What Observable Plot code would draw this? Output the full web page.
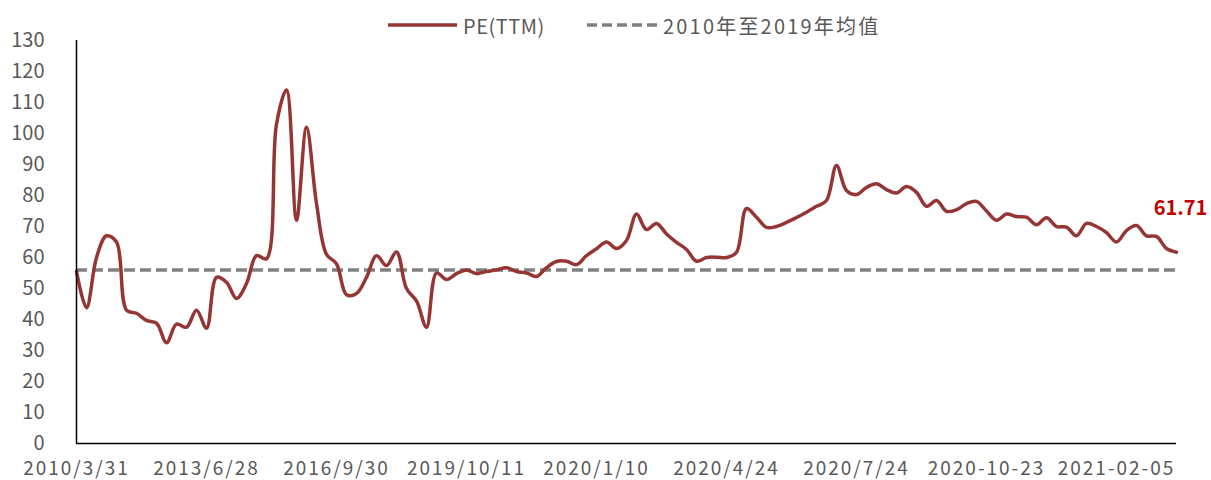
<!DOCTYPE html>
<html>
<head>
<meta charset="utf-8">
<script src="https://cdn.jsdelivr.net/npm/d3@7"></script>
<script src="https://cdn.jsdelivr.net/npm/@observablehq/plot@0.6"></script>
<style>
  html, body { margin: 0; padding: 0; background: #fff; }
  body { width: 1211px; height: 480px; overflow: hidden; font-family: "Noto Sans CJK SC", "Noto Sans", sans-serif; }
  #legend { position: relative; height: 30px; }
  .item { position: absolute; top: 14px; height: 22px; display: flex; align-items: center; font-size: 20px; color: #595959; white-space: nowrap; }
  .item svg { margin-right: 6px; }
</style>
</head>
<body>
<div id="legend">
  <div class="item" style="left:388px;">
    <svg width="69" height="6"><line x1="0" y1="3" x2="69" y2="3" stroke="#963634" stroke-width="3.5"/></svg><span style="letter-spacing:0.5px">PE(TTM)</span>
  </div>
  <div class="item" style="left:587px;">
    <svg width="70" height="6"><line x1="0" y1="3" x2="70" y2="3" stroke="#808080" stroke-width="3.5" stroke-dasharray="10,5"/></svg><span style="letter-spacing:2.2px">2010年至2019年均值</span>
  </div>
</div>
<div id="chart"></div>
<script>
// PE(TTM) series, one value per category (quarterly until 2019/10, weekly after)
const peValues = [
  55.5, 43.8, 60, 67, 65, 43, 42, 39.7, 38.8, 32.5,
  38.5, 37.5, 43, 37.2, 53.6, 52, 46.8, 51.6, 60.6, 59.6,
  103, 114, 72, 102, 77.4, 61, 58, 48, 48.4, 53.6,
  60.6, 57.4, 61.8, 50, 46, 37.5, 55, 52.9, 54.8, 56,
  54.8, 55.5, 56, 56.7, 55.5, 55, 53.9, 56.7, 58.7, 58.8,
  57.7, 60.6, 62.8, 65, 62.9, 65.5, 74, 69, 71, 67.6,
  64.9, 62.6, 58.8, 60, 60.1, 60, 61.7, 75.8, 73, 69.7,
  70, 71.3, 72.9, 74.6, 76.5, 78.4, 89.7, 81.6, 80.3, 82.6,
  83.8, 81.9, 80.8, 82.9, 81, 76.5, 78.4, 74.9, 75.4, 77.4,
  78.1, 75, 72, 74, 73.2, 73, 70.6, 72.8, 70, 69.8,
  67, 71, 70, 68, 65, 68.7, 70.3, 67, 66.8, 62.9,
  61.71
];
// 2010-2019 average
const meanValue = 56;
// category axis labels, shown every 13th category
const tickLabels = ["2010/3/31", "2013/6/28", "2016/9/30", "2019/10/11", "2020/1/10", "2020/4/24", "2020/7/24", "2020-10-23", "2021-02-05"];
const tickEvery = 13;
const yTicks = [0, 10, 20, 30, 40, 50, 60, 70, 80, 90, 100, 110, 120, 130];

const data = peValues.map((v, i) => ({i, v}));
const last = data[data.length - 1];
const tickPos = tickLabels.map((_, k) => k * tickEvery);

const chart = Plot.plot({
  width: 1211,
  height: 450,
  marginTop: 10,
  marginBottom: 37,
  marginLeft: 76,
  marginRight: 35,
  style: {fontFamily: '"Noto Sans CJK SC", "Noto Sans", sans-serif', fontSize: "20px", color: "#595959", overflow: "visible"},
  y: {domain: [0, 130], ticks: yTicks, tickSize: 0, tickPadding: 32, label: null},
  x: {domain: [0, data.length - 1], label: null},
  marks: [
    Plot.axisX(tickPos, {tickFormat: d => tickLabels[d / tickEvery], tickSize: 0, tickPadding: 18, fontSize: 19, label: null}),
    Plot.ruleY([meanValue], {stroke: "#808080", strokeWidth: 3.5, strokeDasharray: "11,5"}),
    Plot.line(data, {x: "i", y: "v", stroke: "#963634", strokeWidth: 3.5, curve: "catmull-rom"}),
    Plot.ruleX([0], {stroke: "#000", strokeWidth: 1.5}),
    Plot.ruleY([0], {stroke: "#000", strokeWidth: 1.5}),
    Plot.text([last], {x: "i", y: "v", text: d => d.v.toFixed(2), dy: -44, dx: 4, fill: "#C00000", fontWeight: "bold", fontSize: 20})
  ]
});
d3.select(chart).selectAll('g[aria-label="x-axis tick label"] text').style("letter-spacing", "2px");
document.getElementById("chart").appendChild(chart);
</script>
</body>
</html>
